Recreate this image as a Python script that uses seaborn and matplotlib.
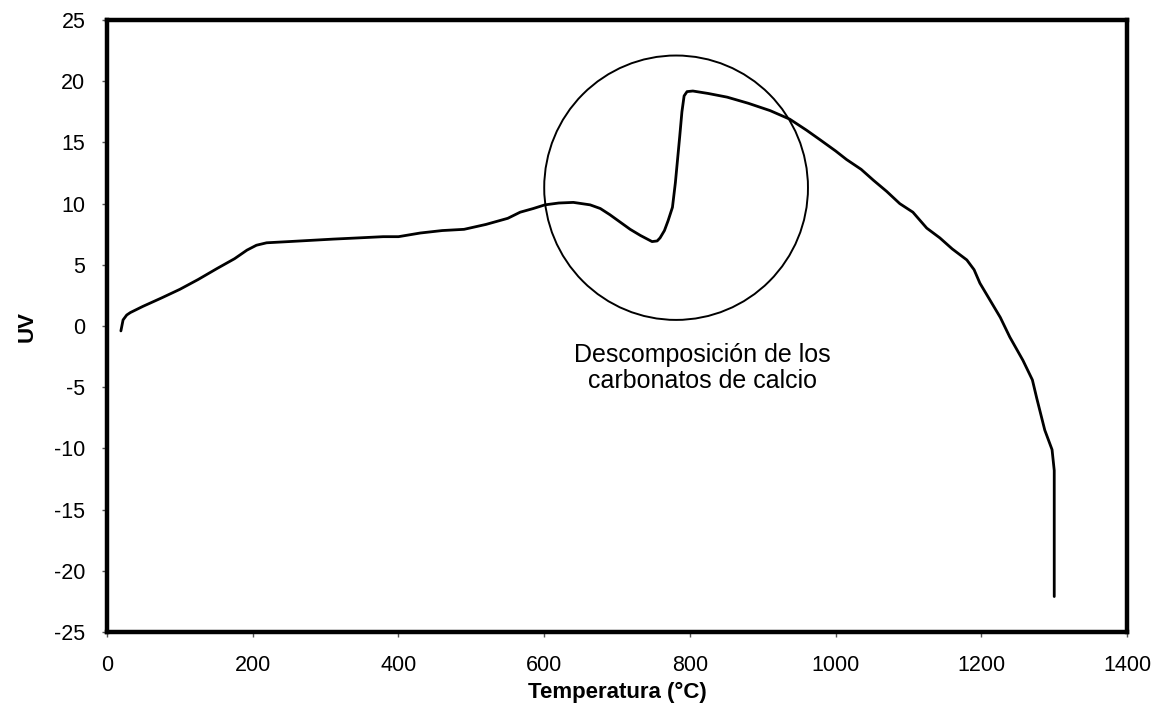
import matplotlib
matplotlib.use("Agg")
import matplotlib.pyplot as plt
from matplotlib.patches import Ellipse
import seaborn as sns
import pandas as pd

# Thermal analysis curve: temperature (°C) vs signal (UV)
temperatura = [19, 22, 27, 32, 49, 75, 100, 125, 151, 175, 192, 205, 219, 250, 280,
               310, 345, 379, 400, 430, 460, 490, 520, 550, 567, 585, 601, 620, 640,
               663, 677, 690, 704, 718, 732, 748, 755, 759, 765, 770, 776, 780, 783,
               786, 789, 792, 796, 804, 825, 851, 880, 910, 937, 960, 979, 1000, 1015,
               1035, 1052, 1070, 1088, 1106, 1125, 1143, 1160, 1180, 1190, 1198, 1212,
               1226, 1239, 1257, 1270, 1276, 1287, 1297, 1300, 1300, 1300]
uv = [-0.4, 0.5, 0.9, 1.1, 1.6, 2.3, 3.0, 3.8, 4.7, 5.5, 6.2, 6.6, 6.8, 6.9, 7.0,
      7.1, 7.2, 7.3, 7.3, 7.6, 7.8, 7.9, 8.3, 8.8, 9.3, 9.6, 9.9, 10.05, 10.1,
      9.9, 9.6, 9.1, 8.5, 7.9, 7.4, 6.9, 6.95, 7.2, 7.8, 8.6, 9.7, 11.7, 13.6,
      15.5, 17.5, 18.8, 19.15, 19.2, 19.0, 18.7, 18.2, 17.6, 16.9, 16.0, 15.2, 14.3, 13.6,
      12.8, 11.9, 11.0, 10.0, 9.3, 8.0, 7.2, 6.3, 5.4, 4.6, 3.5, 2.1,
      0.7, -0.9, -2.8, -4.4, -5.9, -8.5, -10.1, -11.8, -16.0, -22.1]

x_ticks = [0, 200, 400, 600, 800, 1000, 1200, 1400]
y_ticks = [-25, -20, -15, -10, -5, 0, 5, 10, 15, 20, 25]

nota = "Descomposición de los\ncarbonatos de calcio"

sns.set_style("white")
plt.rcParams["font.family"] = ["Liberation Sans", "DejaVu Sans"]
plt.rcParams["axes.unicode_minus"] = False

df = pd.DataFrame({"Temperatura": temperatura, "UV": uv})

fig = plt.figure(figsize=(11.56, 7.05), dpi=100)
ax = fig.add_axes([0.0926, 0.1035, 0.8824, 0.8681])

sns.lineplot(data=df, x="Temperatura", y="UV", sort=False, estimator=None,
             color="black", linewidth=2.0, ax=ax)

# Circle highlighting the decomposition step
ax.add_patch(Ellipse((781, 11.3), width=362, height=21.6, fill=False,
                     edgecolor="black", linewidth=1.4))
ax.text(817, -3.4, nota, ha="center", va="center", fontsize=18,
        linespacing=1.1, color="black")

ax.set_xlim(0, 1400)
ax.set_ylim(-25, 25)
ax.set_xticks(x_ticks)
ax.set_yticks(y_ticks)
ax.tick_params(axis="both", direction="out", length=3.6, width=1, color="#555555",
               labelsize=15.5, labelcolor="black", bottom=True, left=True)
ax.tick_params(axis="y", pad=12)
ax.tick_params(axis="x", pad=13)

for sp in ax.spines.values():
    sp.set_visible(True)
    sp.set_color("black")
    sp.set_linewidth(3.2)

ax.set_xlabel("Temperatura (°C)", fontsize=16, fontweight="bold", labelpad=4,
              color="black")
ax.set_ylabel("UV", fontsize=16, fontweight="bold", labelpad=12, color="black")

fig.savefig("out.png", dpi=100, facecolor="white")
